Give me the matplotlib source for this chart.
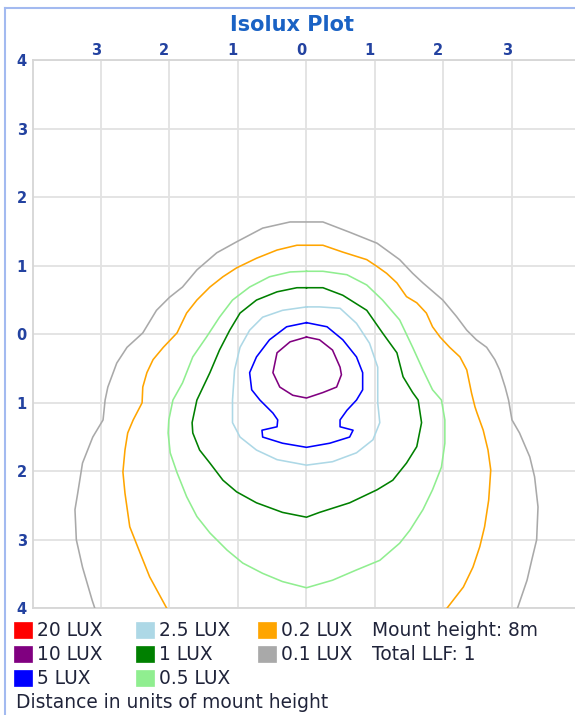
import matplotlib
matplotlib.use("Agg")
import matplotlib.pyplot as plt
from matplotlib.patches import Rectangle
from matplotlib.lines import Line2D

# isolux contours, in units of mount height (x across, y along)
iso_01 = [(-3.09, -4.0), (-3.13, -3.88), (-3.27, -3.40), (-3.36, -3.00), (-3.38, -2.56),
          (-3.34, -2.32), (-3.27, -1.88), (-3.12, -1.50), (-2.97, -1.25), (-2.94, -0.96),
          (-2.90, -0.77), (-2.77, -0.42), (-2.62, -0.19), (-2.39, 0.02), (-2.19, 0.35),
          (-2.00, 0.54), (-1.81, 0.69), (-1.60, 0.94), (-1.31, 1.19), (-1.02, 1.35),
          (-0.64, 1.55), (-0.24, 1.64), (0.0, 1.64), (0.24, 1.64), (0.63, 1.49),
          (1.03, 1.33), (1.36, 1.09), (1.55, 0.89), (1.70, 0.75), (1.99, 0.50),
          (2.19, 0.26), (2.34, 0.06), (2.48, -0.08), (2.63, -0.19), (2.75, -0.37),
          (2.82, -0.52), (2.90, -0.77), (2.95, -0.96), (3.00, -1.25), (3.11, -1.44),
          (3.26, -1.79), (3.33, -2.08), (3.38, -2.52), (3.36, -3.00), (3.29, -3.29),
          (3.22, -3.59), (3.08, -4.0)]
iso_02 = [(-2.04, -4.0), (-2.29, -3.54), (-2.43, -3.19), (-2.58, -2.81), (-2.65, -2.32),
          (-2.68, -2.01), (-2.65, -1.69), (-2.61, -1.44), (-2.53, -1.25), (-2.40, -1.00),
          (-2.39, -0.77), (-2.33, -0.56), (-2.24, -0.37), (-2.09, -0.19), (-1.89, 0.02),
          (-1.75, 0.31), (-1.60, 0.50), (-1.41, 0.69), (-1.22, 0.84), (-1.02, 0.97),
          (-0.73, 1.11), (-0.43, 1.23), (-0.14, 1.30), (0.0, 1.30), (0.24, 1.30),
          (0.53, 1.20), (0.88, 1.09), (1.03, 0.99), (1.17, 0.89), (1.32, 0.75),
          (1.46, 0.55), (1.61, 0.46), (1.75, 0.31), (1.84, 0.11), (1.95, -0.04),
          (2.09, -0.19), (2.24, -0.33), (2.34, -0.52), (2.41, -0.86), (2.46, -1.06),
          (2.49, -1.15), (2.58, -1.40), (2.65, -1.69), (2.69, -1.98), (2.66, -2.42),
          (2.60, -2.81), (2.53, -3.10), (2.43, -3.40), (2.29, -3.69), (2.05, -4.0)]
iso_05 = [(0.0, 0.92), (0.24, 0.92), (0.59, 0.87), (0.88, 0.72), (1.11, 0.50), (1.36, 0.21),
          (1.55, -0.19), (1.70, -0.52), (1.84, -0.81), (1.97, -0.96), (2.02, -1.25),
          (2.02, -1.59), (1.97, -1.94), (1.84, -2.27), (1.70, -2.56), (1.51, -2.86),
          (1.36, -3.05), (1.07, -3.30), (0.73, -3.44), (0.38, -3.59), (0.0, -3.70),
          (-0.35, -3.61), (-0.64, -3.49), (-0.93, -3.34), (-1.16, -3.15), (-1.41, -2.90),
          (-1.60, -2.66), (-1.75, -2.37), (-1.89, -2.02), (-1.99, -1.73), (-2.02, -1.44),
          (-2.01, -1.25), (-1.95, -0.96), (-1.81, -0.71), (-1.66, -0.33), (-1.46, -0.04),
          (-1.27, 0.25), (-1.08, 0.50), (-0.83, 0.69), (-0.54, 0.84), (-0.24, 0.91),
          (0.0, 0.92)]
iso_1 = [(0.0, 0.68), (0.24, 0.68), (0.53, 0.57), (0.88, 0.35), (1.11, 0.02), (1.32, -0.27),
         (1.41, -0.62), (1.55, -0.85), (1.63, -0.96), (1.68, -1.29), (1.61, -1.64),
         (1.46, -1.88), (1.26, -2.13), (1.03, -2.27), (0.63, -2.46), (0.19, -2.60),
         (0.0, -2.67), (-0.35, -2.60), (-0.73, -2.46), (-1.02, -2.30), (-1.22, -2.13),
         (-1.41, -1.88), (-1.56, -1.69), (-1.66, -1.44), (-1.67, -1.29), (-1.60, -0.96),
         (-1.41, -0.56), (-1.27, -0.23), (-1.12, 0.06), (-0.97, 0.31), (-0.73, 0.50),
         (-0.43, 0.62), (-0.14, 0.68), (0.0, 0.68)]
iso_25 = [(0.0, 0.40), (0.19, 0.40), (0.49, 0.38), (0.73, 0.16), (0.92, -0.13), (1.04, -0.48),
          (1.04, -1.00), (1.07, -1.29), (0.97, -1.54), (0.73, -1.73), (0.38, -1.86),
          (0.0, -1.91), (-0.43, -1.83), (-0.73, -1.69), (-0.97, -1.50), (-1.08, -1.29),
          (-1.08, -0.96), (-1.05, -0.52), (-0.97, -0.19), (-0.83, 0.06), (-0.64, 0.25),
          (-0.35, 0.35), (0.0, 0.40)]
iso_5 = [(0.0, 0.17), (0.30, 0.11), (0.53, -0.08), (0.73, -0.33), (0.82, -0.56), (0.82, -0.81),
         (0.73, -0.96), (0.59, -1.11), (0.49, -1.25), (0.49, -1.35), (0.68, -1.40),
         (0.63, -1.50), (0.34, -1.59), (0.0, -1.65), (-0.35, -1.59), (-0.64, -1.50),
         (-0.65, -1.40), (-0.43, -1.35), (-0.42, -1.25), (-0.49, -1.15), (-0.68, -0.96),
         (-0.80, -0.81), (-0.83, -0.56), (-0.73, -0.33), (-0.54, -0.08), (-0.29, 0.11),
         (0.0, 0.17)]
iso_10 = [(0.0, -0.04), (0.19, -0.08), (0.38, -0.23), (0.49, -0.48), (0.51, -0.59),
          (0.44, -0.77), (0.24, -0.85), (0.0, -0.93), (-0.20, -0.89), (-0.39, -0.77),
          (-0.49, -0.56), (-0.43, -0.27), (-0.24, -0.11), (0.0, -0.04)]

legend_labels = ["20 LUX", "10 LUX", "5 LUX", "2.5 LUX", "1 LUX", "0.5 LUX", "0.2 LUX", "0.1 LUX"]
legend_colors = ["#ff0000", "#800080", "#0000ff", "#add8e6", "#008000", "#90ee90", "#ffa500", "#a9a9a9"]
contours = [None, iso_10, iso_5, iso_25, iso_1, iso_05, iso_02, iso_01]

x_ticks = [-3, -2, -1, 0, 1, 2, 3]
y_ticks = [-4, -3, -2, -1, 0, 1, 2, 3, 4]

W, H = 575, 715
fig = plt.figure(figsize=(W / 100, H / 100), dpi=100)


def fx(px):
    return px / W


def fy(py):
    return 1 - py / H


ax = fig.add_axes([fx(32.5), fy(608.3), (W - 32.5) / W, (608.3 - 60.3) / H])

for pts, col in zip(contours, legend_colors):
    if pts is None:
        continue
    xs = [p[0] for p in pts]
    ys = [p[1] for p in pts]
    ax.plot(xs, ys, color=col, lw=1.15, solid_joinstyle="round", zorder=3)

ax.set_xlim(-4, 3.92)
ax.set_ylim(-4, 4)
ax.xaxis.tick_top()
ax.set_xticks(x_ticks)
ax.set_xticklabels([str(abs(v)) for v in x_ticks], ha="right")
ax.set_yticks(y_ticks)
ax.set_yticklabels([str(abs(v)) for v in y_ticks])
ax.tick_params(length=0, labelcolor="#2342a0", labelsize=10.5)
ax.tick_params(axis="x", pad=2)
ax.tick_params(axis="y", pad=4)
for lab in ax.get_xticklabels() + ax.get_yticklabels():
    lab.set_fontweight("bold")
ax.grid(color="#e2e2e2", lw=1.3, zorder=0)
for side in ["left", "top", "bottom"]:
    ax.spines[side].set_color("#d6d6d6")
    ax.spines[side].set_linewidth(1.3)
ax.spines["right"].set_visible(False)

fig.text(fx(292), fy(25), "Isolux Plot", ha="center", va="center",
         fontsize=15, fontweight="bold", color="#1a62c4")

# outer frame (only top and left visible)
fig.add_artist(Line2D([fx(5), fx(5)], [fy(8), 0], color="#a3baf0", lw=1.5))
fig.add_artist(Line2D([fx(5), 1], [fy(8), fy(8)], color="#a3baf0", lw=1.5))

# legend, column major, 3 rows
text_col = "#20243a"
col_x = [14, 136, 258]
row_y = [630, 654, 678]
for i, (lab, col) in enumerate(zip(legend_labels, legend_colors)):
    cx = col_x[i // 3]
    cy = row_y[i % 3]
    fig.add_artist(Rectangle((fx(cx), fy(cy + 8)), 18 / W, 16 / H, transform=fig.transFigure,
                             facecolor=col, edgecolor=col, lw=0.5))
    fig.text(fx(cx + 23), fy(cy), lab, ha="left", va="center", fontsize=13.4, color=text_col)

fig.text(fx(372), fy(row_y[0]), "Mount height: 8m", ha="left", va="center", fontsize=13.4, color=text_col)
fig.text(fx(372), fy(row_y[1]), "Total LLF: 1", ha="left", va="center", fontsize=13.4, color=text_col)
fig.text(fx(16), fy(703), "Distance in units of mount height", ha="left", va="center",
         fontsize=13.4, color=text_col)

fig.savefig("out.png", dpi=100)
